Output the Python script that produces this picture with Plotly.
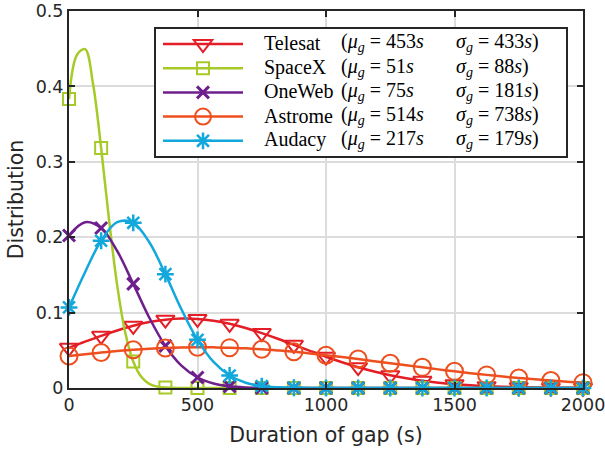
import plotly.graph_objects as go

# ---------------- data ----------------
X_GRID = [0, 62.5, 125, 187.5, 250, 312.5, 375, 437.5, 500, 562.5, 625, 687.5,
          750, 812.5, 875, 937.5, 1000, 1062.5, 1125, 1187.5, 1250, 1312.5,
          1375, 1437.5, 1500, 1562.5, 1625, 1687.5, 1750, 1812.5, 1875,
          1937.5, 2000]

TELESAT = [0.0533, 0.0614, 0.0692, 0.0763, 0.0825, 0.0874, 0.0906, 0.0921,
           0.0916, 0.0892, 0.0851, 0.0796, 0.0728, 0.0653, 0.0573, 0.0493,
           0.0415, 0.0342, 0.0276, 0.0219, 0.0169, 0.0128, 0.0095, 0.0069,
           0.0050, 0.0035, 0.0024, 0.0016, 0.0010, 0.0007, 0.0004, 0.0003,
           0.0002]

SPACEX_X = [0, 31.25, 62.5, 93.75, 125, 156.25, 187.5, 218.75, 250, 281.25,
            312.5, 343.75, 375, 437.5, 500, 562.5, 625, 687.5, 750, 812.5,
            875, 937.5, 1000, 1062.5, 1125, 1187.5, 1250, 1312.5, 1375,
            1437.5, 1500, 1562.5, 1625, 1687.5, 1750, 1812.5, 1875, 1937.5,
            2000]
SPACEX = [0.3832, 0.4420, 0.4494, 0.4028, 0.3183, 0.2217, 0.1361, 0.0737,
          0.0351, 0.0148, 0.0055, 0.0018, 0.0005, 0, 0, 0, 0, 0, 0, 0, 0, 0,
          0, 0, 0, 0, 0, 0, 0, 0, 0, 0, 0, 0, 0, 0, 0, 0, 0]

ONEWEB = [0.2023, 0.2199, 0.2122, 0.1817, 0.1381, 0.0932, 0.0558, 0.0297,
          0.0140, 0.0059, 0.0022, 0.0007, 0.0002, 0, 0, 0, 0, 0, 0, 0, 0, 0,
          0, 0, 0, 0, 0, 0, 0, 0, 0, 0, 0]

ASTROME = [0.0424, 0.0448, 0.0470, 0.0490, 0.0507, 0.0521, 0.0531, 0.0538,
           0.0541, 0.0539, 0.0535, 0.0526, 0.0514, 0.0498, 0.0480, 0.0459,
           0.0435, 0.0410, 0.0384, 0.0356, 0.0329, 0.0301, 0.0274, 0.0247,
           0.0221, 0.0197, 0.0174, 0.0153, 0.0133, 0.0115, 0.0099, 0.0084,
           0.0071]

AUDACY = [0.1069, 0.1536, 0.1953, 0.2199, 0.2191, 0.1933, 0.1510, 0.1044,
          0.0639, 0.0346, 0.0166, 0.0070, 0.0026, 0.0009, 0.0003, 0.0001,
          0, 0, 0, 0, 0, 0, 0, 0, 0, 0, 0, 0, 0, 0, 0, 0, 0]

NAMES = ["Telesat", "SpaceX", "OneWeb", "Astrome", "Audacy"]
MU = [453, 51, 75, 514, 217]
SIGMA = [433, 88, 181, 738, 179]

X_TICKS = [0, 500, 1000, 1500, 2000]
Y_TICKS = [0, 0.1, 0.2, 0.3, 0.4, 0.5]
Y_TICK_LABELS = ["0", "0.1", "0.2", "0.3", "0.4", "0.5"]
MARKER_STEP = 125

# ---------------- styles ----------------
SERIES = [
    (NAMES[0], X_GRID, TELESAT, "#E41E26", "triangle-down-open", 16, 2),
    (NAMES[1], SPACEX_X, SPACEX, "#A6CA28", "square-open", 12, 2),
    (NAMES[2], X_GRID, ONEWEB, "#6E1F8C", "x-thin-open", 12, 3),
    (NAMES[3], X_GRID, ASTROME, "#EE4F1E", "circle-open", 17, 2),
    (NAMES[4], X_GRID, AUDACY, "#12A8DC", "asterisk-open", 14, 2.5),
]

fig = go.Figure()
for name, xs, ys, color, symbol, msize, mlw in SERIES:
    fig.add_trace(go.Scatter(
        x=xs, y=ys, mode="lines", line=dict(color=color, width=2.5, shape="spline"),
        showlegend=False, hoverinfo="skip", cliponaxis=False))
    mx = [x for x in xs if x % MARKER_STEP == 0]
    my = [y for x, y in zip(xs, ys) if x % MARKER_STEP == 0]
    fig.add_trace(go.Scatter(
        x=mx, y=my, mode="markers",
        marker=dict(symbol=symbol, size=msize, color=color,
                    line=dict(color=color, width=mlw)),
        showlegend=False, cliponaxis=False, name=name))
    # legend entry
    fig.add_trace(go.Scatter(
        x=[None], y=[None], mode="lines+markers", name=" ",
        line=dict(color=color, width=2.5),
        marker=dict(symbol=symbol, size=msize, color=color,
                    line=dict(color=color, width=mlw)),
        showlegend=True))

# ---------------- layout geometry ----------------
W, H = 605, 452
ML, MR, MT, MB = 69, 22, 11, 64
PW, PH = W - ML - MR, H - MT - MB

def px_to_xpaper(px):
    return (px - ML) / PW

def py_to_ypaper(py):
    return (H - MB - py) / PH

ROW0 = 44.0
ROW_STEP = 24.2
LEG_FS = (ROW_STEP - 3) / 1.3

annotations = []
text_font = dict(family="Liberation Serif, Times New Roman, serif", size=20, color="#000000")
for i, name in enumerate(NAMES):
    yrow = py_to_ypaper(ROW0 + i * ROW_STEP - 1)
    annotations.append(dict(x=px_to_xpaper(262), y=yrow, xref="paper", yref="paper",
                            text=name, showarrow=False, xanchor="left", yanchor="middle",
                            font=text_font))
    annotations.append(dict(x=px_to_xpaper(339), y=yrow, xref="paper", yref="paper",
                            text="(<i>μ</i><sub><i>g</i></sub> = %d<i>s</i>" % MU[i],
                            showarrow=False, xanchor="left", yanchor="middle",
                            font=text_font))
    annotations.append(dict(x=px_to_xpaper(454), y=yrow, xref="paper", yref="paper",
                            text="<i>σ</i><sub><i>g</i></sub> = %d<i>s</i>)" % SIGMA[i],
                            showarrow=False, xanchor="left", yanchor="middle",
                            font=text_font))

axis_common = dict(
    showline=True, linecolor="#262626", linewidth=2, mirror="ticks",
    ticks="inside", ticklen=6, tickwidth=2, tickcolor="#262626",
    showgrid=True, gridcolor="#DCDCDC", gridwidth=2, zeroline=False,
    automargin=False, ticklabeloverflow="allow",
    tickfont=dict(family="DejaVu Sans", size=17.5, color="#262626"),
)

fig.update_layout(
    width=W, height=H,
    margin=dict(l=ML, r=MR, t=MT, b=MB, autoexpand=False),
    plot_bgcolor="white", paper_bgcolor="white",
    xaxis=dict(range=[0, 2000], tickvals=X_TICKS,
               title=dict(text="Duration of gap (s)", standoff=14,
                          font=dict(family="DejaVu Sans", size=20.5, color="#262626")),
               **axis_common),
    yaxis=dict(range=[0, 0.5], tickvals=Y_TICKS, ticktext=Y_TICK_LABELS,
               title=dict(text="Distribution", standoff=6,
                          font=dict(family="DejaVu Sans", size=20.5, color="#262626")),
               **axis_common),
    legend=dict(x=px_to_xpaper(158), y=py_to_ypaper(ROW0 - 5 - ROW_STEP / 2),
                xanchor="left", yanchor="top", bgcolor="rgba(0,0,0,0)",
                borderwidth=0, itemwidth=80,
                font=dict(family="Liberation Serif", size=LEG_FS)),
    shapes=[dict(type="rect", xref="paper", yref="paper",
                 x0=px_to_xpaper(155), x1=px_to_xpaper(567),
                 y0=py_to_ypaper(157), y1=py_to_ypaper(28),
                 fillcolor="white", line=dict(color="#262626", width=2),
                 layer="above")],
    annotations=annotations,
)

fig.write_html("out.html", config={"displayModeBar": False},
               post_script="document.body.style.margin='0px';document.body.style.overflow='hidden';")
